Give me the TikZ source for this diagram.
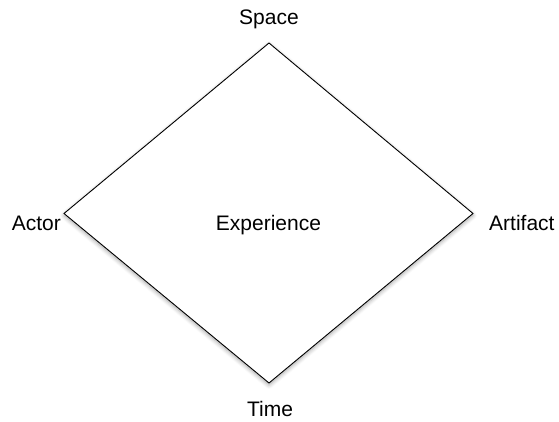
\documentclass[tikz,border=0pt]{standalone}
\usepackage{fontspec}
\setmainfont{Liberation Sans}
\usetikzlibrary{shadows.blur}
\begin{document}
\begin{tikzpicture}[x=1pt,y=1pt,
  lbl/.style={font=\fontsize{21}{24}\selectfont, inner sep=0pt, anchor=base},
  edge/.style={draw=black, line width=0.9pt, line join=miter}]
\useasboundingbox (0,0) rectangle (559,422);
\coordinate (top) at (269,379);
\coordinate (bot) at (269,39);
\coordinate (lft) at (64,208.5);
\coordinate (rgt) at (473,208.5);
\path[fill=white, blur shadow={shadow xshift=0pt, shadow yshift=-2pt, shadow blur steps=6, shadow blur extra rounding=0pt, shadow opacity=35, shadow blur radius=4pt}] (top) -- (rgt) -- (bot) -- (lft) -- cycle;
\draw[edge] (top) -- (rgt) -- (bot) -- (lft) -- cycle;
\node[lbl] (space) at (269,397) {Space};
\node[lbl, anchor=base east] (actor) at (61,191) {Actor};
\node[lbl, anchor=base west] (artifact) at (489,191) {Artifact};
\node[lbl] (exp) at (268.5,191) {Experience};
\node[lbl] (time) at (270,5) {Time};
\end{tikzpicture}
\end{document}
